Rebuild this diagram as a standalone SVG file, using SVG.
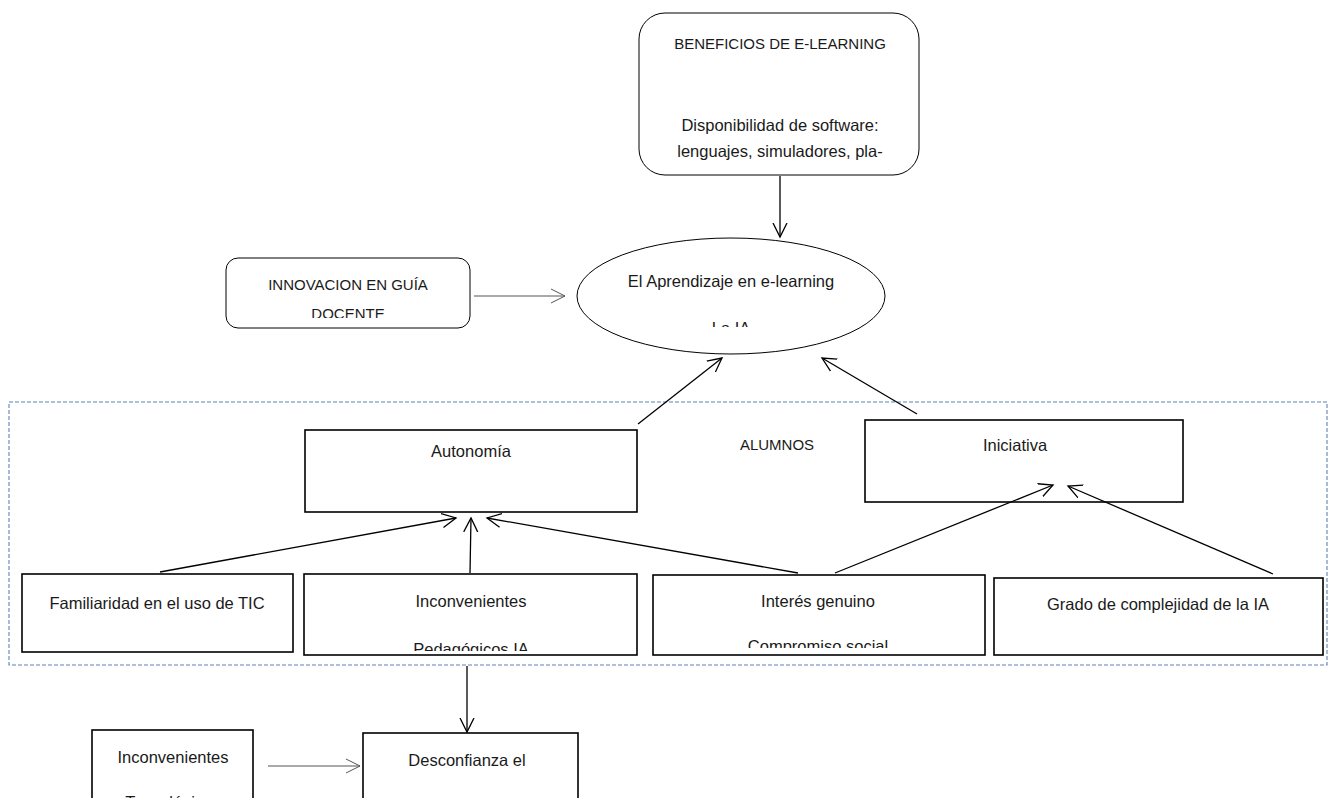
<svg xmlns="http://www.w3.org/2000/svg" width="1336" height="798" viewBox="0 0 1336 798">
<style>
text{font-family:"Liberation Sans",Arial,sans-serif;font-size:16.5px;fill:#1a1a1a;text-anchor:middle}
.cap{font-size:15px}
.box{fill:#fff;stroke:#000;stroke-width:1.6}
.thin{fill:#fff;stroke:#000;stroke-width:1}
.c{stroke:#000;stroke-width:1.3;fill:none}
.ct{stroke:#555;stroke-width:1;fill:none}
</style>
<defs>
<marker id="a" markerUnits="userSpaceOnUse" markerWidth="16" markerHeight="16" refX="14" refY="8" orient="auto" viewBox="0 0 16 16">
<path d="M0,1 L14,8 L0,15" fill="none" stroke="#000" stroke-width="1.3"/>
</marker>
<marker id="b" markerUnits="userSpaceOnUse" markerWidth="16" markerHeight="16" refX="14" refY="8" orient="auto" viewBox="0 0 16 16">
<path d="M0,1 L14,8 L0,15" fill="none" stroke="#555" stroke-width="1"/>
</marker>
<clipPath id="cInn"><rect x="226" y="258" width="244" height="60"/></clipPath>
<clipPath id="cEl"><rect x="577" y="238" width="310" height="89"/></clipPath>
<clipPath id="cPed"><rect x="304" y="574" width="333" height="77"/></clipPath>
<clipPath id="cInt"><rect x="653" y="575" width="332" height="73"/></clipPath>
</defs>

<g id="alumnos">
<rect x="9" y="402" width="1318" height="263" fill="none" stroke="#5f82b8" stroke-width="1.1" stroke-dasharray="4,2"/>
<text class="cap" x="777" y="450">ALUMNOS</text>
</g>

<g id="beneficios">
<rect class="thin" x="639" y="13" width="280" height="162" rx="26"/>
<text class="cap" x="780" y="49">BENEFICIOS DE E-LEARNING</text>
<text x="780" y="131">Disponibilidad de software:</text>
<text x="780" y="157">lenguajes, simuladores, pla-</text>
</g>

<g id="innovacion">
<rect class="thin" x="226" y="258" width="244" height="70" rx="12"/>
<g clip-path="url(#cInn)">
<text class="cap" x="348" y="290">INNOVACION EN GUÍA</text>
<text class="cap" x="348" y="319">DOCENTE</text>
</g>
</g>

<g id="aprendizaje">
<ellipse class="thin" cx="731" cy="296" rx="154" ry="58"/>
<g clip-path="url(#cEl)">
<text x="731" y="287">El Aprendizaje en e-learning</text>
<text x="731" y="334">La IA</text>
</g>
</g>

<g id="autonomia">
<rect class="box" x="305" y="430" width="332" height="82"/>
<text x="471" y="457">Autonomía</text>
</g>

<g id="iniciativa">
<rect class="box" x="865" y="420" width="318" height="82"/>
<text x="1015" y="451">Iniciativa</text>
</g>

<g id="familiaridad">
<rect class="box" x="22" y="574" width="271" height="78"/>
<text x="157" y="609">Familiaridad en el uso de TIC</text>
</g>

<g id="pedagogicos">
<rect class="box" x="304" y="574" width="333" height="81"/>
<g clip-path="url(#cPed)">
<text x="471" y="607">Inconvenientes</text>
<text x="471" y="655">Pedagógicos IA</text>
</g>
</g>

<g id="interes">
<rect class="box" x="653" y="575" width="332" height="80"/>
<g clip-path="url(#cInt)">
<text x="818" y="607">Interés genuino</text>
<text x="818" y="652">Compromiso social</text>
</g>
</g>

<g id="grado">
<rect class="box" x="994" y="578" width="329" height="77"/>
<text x="1158" y="610">Grado de complejidad de la IA</text>
</g>

<g id="tecnologicos">
<rect class="box" x="92" y="730" width="161" height="80"/>
<text x="173" y="763">Inconvenientes</text>
<text x="173" y="808">Tecnológicos</text>
</g>

<g id="desconfianza">
<rect class="box" x="363" y="733" width="215" height="80"/>
<text x="467" y="766">Desconfianza el</text>
</g>

<g id="connectors">
<line class="c" x1="780" y1="176" x2="780" y2="237" marker-end="url(#a)"/>
<line class="ct" x1="474" y1="296" x2="565" y2="296" marker-end="url(#b)"/>
<line class="c" x1="638" y1="424" x2="722" y2="358" marker-end="url(#a)"/>
<line class="c" x1="917" y1="414" x2="822" y2="358" marker-end="url(#a)"/>
<line class="c" x1="160" y1="572" x2="456" y2="518" marker-end="url(#a)"/>
<line class="c" x1="470" y1="573" x2="471" y2="518" marker-end="url(#a)"/>
<line class="c" x1="798" y1="573" x2="487" y2="518" marker-end="url(#a)"/>
<line class="c" x1="835" y1="573" x2="1053" y2="485" marker-end="url(#a)"/>
<line class="c" x1="1273" y1="574" x2="1068" y2="486" marker-end="url(#a)"/>
<line class="c" x1="467" y1="666" x2="467" y2="732" marker-end="url(#a)"/>
<line class="ct" x1="268" y1="766" x2="360" y2="766" marker-end="url(#b)"/>
</g>
</svg>
